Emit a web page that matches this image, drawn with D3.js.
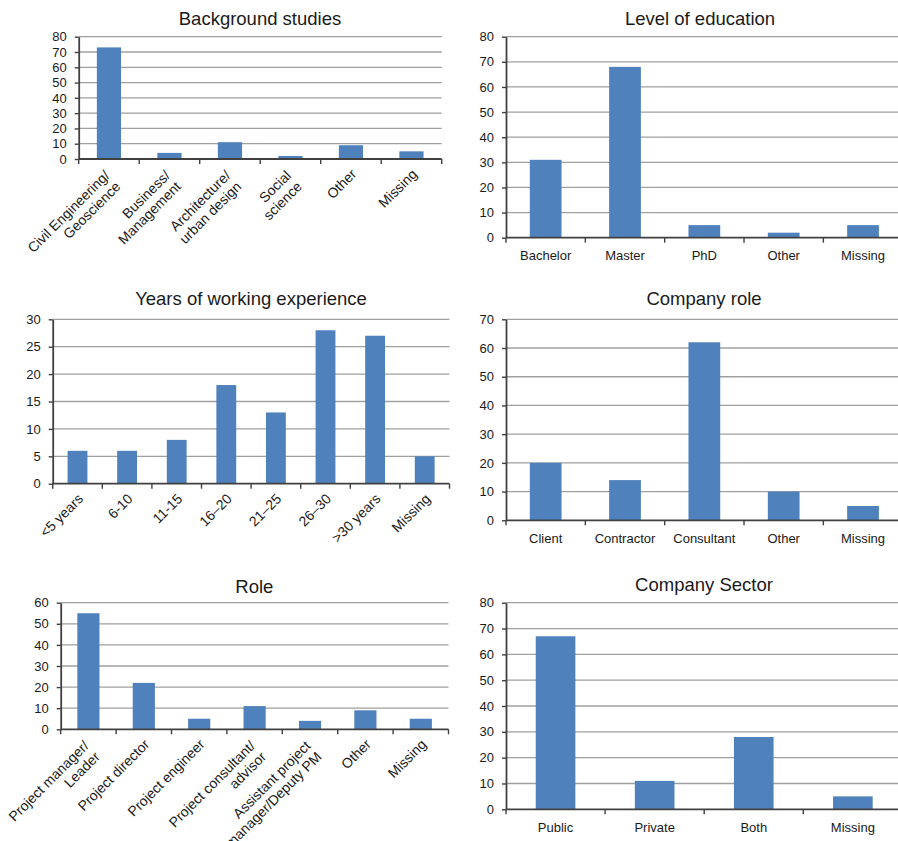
<!DOCTYPE html>
<html>
<head>
<meta charset="utf-8">
<script src="https://cdn.jsdelivr.net/npm/d3@7/dist/d3.min.js"></script>
<style>
  html, body { margin: 0; padding: 0; background: #fff; }
  svg { display: block; }
  text { font-family: "Liberation Sans", Arial, Helvetica, sans-serif; fill: #1a1a1a; }
</style>
</head>
<body>
<svg id="chart" width="898" height="841"></svg>
<script>
// ---------- DATA ----------
const bgCategories = ["Civil Engineering/\nGeoscience", "Business/\nManagement", "Architecture/\nurban design", "Social\nscience", "Other", "Missing"];
const bgValues = [73, 4, 11, 2, 9, 5];
const bgTicks = [0, 10, 20, 30, 40, 50, 60, 70, 80];

const eduCategories = ["Bachelor", "Master", "PhD", "Other", "Missing"];
const eduValues = [31, 68, 5, 2, 5];
const eduTicks = [0, 10, 20, 30, 40, 50, 60, 70, 80];

const expCategories = ["<5 years", "6-10", "11-15", "16\u201320", "21\u201325", "26\u201330", ">30 years", "Missing"];
const expValues = [6, 6, 8, 18, 13, 28, 27, 5];
const expTicks = [0, 5, 10, 15, 20, 25, 30];

const compRoleCategories = ["Client", "Contractor", "Consultant", "Other", "Missing"];
const compRoleValues = [20, 14, 62, 10, 5];
const compRoleTicks = [0, 10, 20, 30, 40, 50, 60, 70];

const roleCategories = ["Project manager/\nLeader", "Project director", "Project engineer", "Project consultant/\nadvisor", "Assistant project\nmanager/Deputy PM", "Other", "Missing"];
const roleValues = [55, 22, 5, 11, 4, 9, 5];
const roleTicks = [0, 10, 20, 30, 40, 50, 60];

const sectorCategories = ["Public", "Private", "Both", "Missing"];
const sectorValues = [67, 11, 28, 5];
const sectorTicks = [0, 10, 20, 30, 40, 50, 60, 70, 80];

const titles = ["Background studies", "Level of education", "Years of working experience", "Company role", "Role", "Company Sector"];

// ---------- LAYOUT ----------
const panels = [
  { title: titles[0], cats: bgCategories, vals: bgValues, ticks: bgTicks, rotate: true,
    left: 78.7, right: 441.7, top: 36.7, bottom: 159, tx: 260, ty: 25 },
  { title: titles[1], cats: eduCategories, vals: eduValues, ticks: eduTicks, rotate: false,
    left: 506, right: 902.7, top: 36.7, bottom: 237.7, tx: 700, ty: 25 },
  { title: titles[2], cats: expCategories, vals: expValues, ticks: expTicks, rotate: true,
    left: 52.7, right: 449.5, top: 319.3, bottom: 483.7, tx: 251, ty: 305 },
  { title: titles[3], cats: compRoleCategories, vals: compRoleValues, ticks: compRoleTicks, rotate: false,
    left: 506, right: 902.7, top: 319.3, bottom: 520.3, tx: 704, ty: 305 },
  { title: titles[4], cats: roleCategories, vals: roleValues, ticks: roleTicks, rotate: true,
    left: 60.7, right: 448.5, top: 602.7, bottom: 729.3, tx: 254.3, ty: 593 },
  { title: titles[5], cats: sectorCategories, vals: sectorValues, ticks: sectorTicks, rotate: false,
    left: 506, right: 902.4, top: 602.7, bottom: 809.3, tx: 704, ty: 591 }
];

const BAR = "#4f81bd";
const GRID = "#a0a0a0";
const AXIS = "#404040";

const svg = d3.select("#chart");

panels.forEach(p => {
  const g = svg.append("g");
  const x = d3.scaleBand().domain(p.cats).range([p.left, p.right]).paddingInner(0.6).paddingOuter(0.3);
  const y = d3.scaleLinear().domain([0, d3.max(p.ticks)]).range([p.bottom, p.top]);

  // gridlines
  g.append("g").selectAll("line").data(p.ticks.filter(t => t > 0)).join("line")
    .attr("x1", p.left).attr("x2", p.right)
    .attr("y1", d => y(d)).attr("y2", d => y(d))
    .attr("stroke", GRID).attr("stroke-width", 1.3);

  // bars
  g.append("g").selectAll("rect").data(p.vals).join("rect")
    .attr("x", (d, i) => x(p.cats[i]))
    .attr("width", x.bandwidth())
    .attr("y", d => y(d))
    .attr("height", d => y(0) - y(d))
    .attr("fill", BAR);

  // y axis
  const ya = g.append("g").attr("transform", `translate(${p.left},0)`)
    .call(d3.axisLeft(y).tickValues(p.ticks).tickSize(4).tickSizeOuter(0).tickPadding(8));
  ya.select(".domain").attr("stroke", AXIS).attr("stroke-width", 1.8);
  ya.selectAll(".tick line").attr("stroke", AXIS).attr("stroke-width", 1.4);
  ya.selectAll(".tick text").attr("font-size", 13).attr("fill", "#1a1a1a")
    .attr("font-family", "'Liberation Sans', Arial, sans-serif");

  // x axis line & boundary ticks
  const step = x.step();
  const n = p.cats.length;
  const bounds = d3.range(n + 1).map(i => x(p.cats[0]) - x.paddingInner() * step / 2 + i * step);
  g.append("line").attr("x1", p.left).attr("x2", p.right)
    .attr("y1", y(0)).attr("y2", y(0)).attr("stroke", AXIS).attr("stroke-width", 1.8);
  g.append("g").selectAll("line").data(bounds).join("line")
    .attr("x1", d => d).attr("x2", d => d)
    .attr("y1", y(0)).attr("y2", y(0) + 5)
    .attr("stroke", AXIS).attr("stroke-width", 1.4);

  // category labels
  p.cats.forEach(c => {
    const cx = x(c) + x.bandwidth() / 2;
    const lines = c.split("\n");
    if (p.rotate) {
      let ax = cx + 3, ay = y(0) + 12.5;
      if (lines.length > 1) { ax -= 5; ay += 1.5; }
      const t = g.append("text")
        .attr("transform", `translate(${ax},${ay}) rotate(-45)`)
        .attr("text-anchor", "end")
        .attr("font-size", 14);
      lines.forEach((ln, i) => {
        t.append("tspan").attr("x", 0).attr("y", i * 15.5).attr("dy", "0.35em").text(ln);
      });
    } else {
      g.append("text").attr("x", cx).attr("y", y(0) + 22.5)
        .attr("text-anchor", "middle").attr("font-size", 13).text(c);
    }
  });

  // title
  g.append("text").attr("x", p.tx).attr("y", p.ty)
    .attr("text-anchor", "middle").attr("font-size", 18.5).text(p.title);
});
</script>
</body>
</html>
